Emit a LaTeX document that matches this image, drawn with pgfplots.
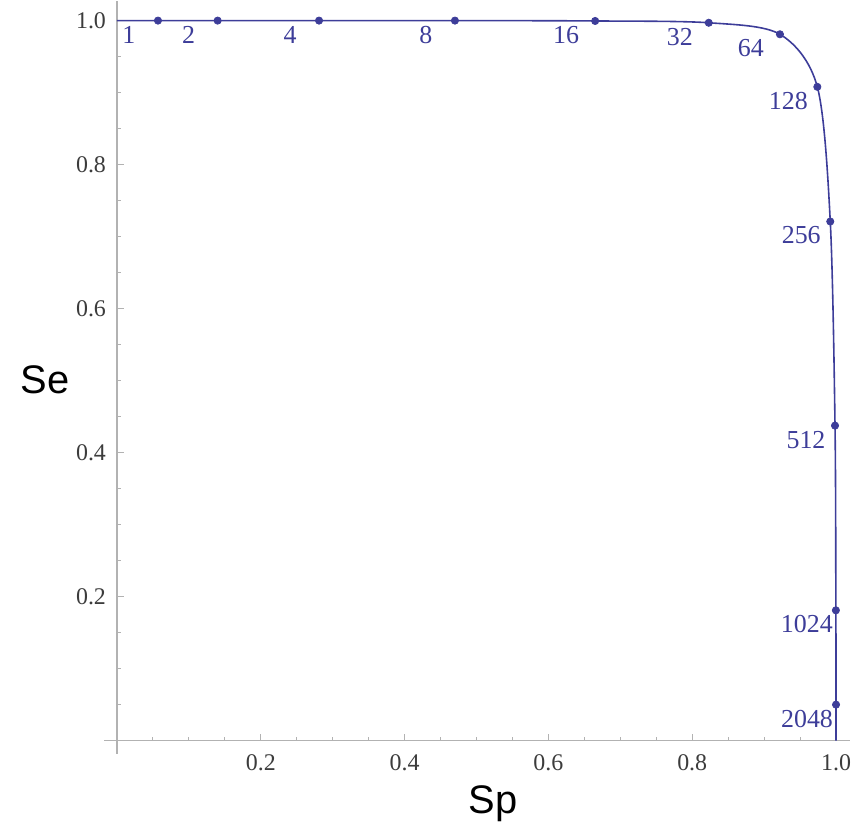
\documentclass[border=0pt]{standalone}
\usepackage{pgfplots}
\pgfplotsset{compat=1.18}
\usepackage{fontspec}
\setmainfont{Liberation Serif}
\newfontfamily\labelsans{Liberation Sans}

\definecolor{curveblue}{RGB}{61,61,153}
\definecolor{axisgray}{RGB}{178,178,178}
\definecolor{ticktext}{RGB}{60,60,60}

% operating points: specificity, sensitivity, threshold n
\pgfplotstableread{
sp      se      n
0.057   1.000   1
0.140   1.000   2
0.281   1.000   4
0.470   1.000   8
0.665   0.9995  16
0.823   0.997   32
0.922   0.981   64
0.974   0.908   128
0.992   0.721   256
0.9986  0.4375  512
0.9998  0.181   1024
1.000   0.050   2048
}\points

% the continuous trade-off curve through the operating points
\pgfplotstableread{
sp      se
0.000   1.000
0.057   1.000
0.140   1.000
0.281   1.000
0.470   1.000
0.665   0.9995
0.823   0.997
0.922   0.981
0.974   0.908
0.992   0.721
0.9986  0.4375
0.9998  0.181
1.000   0.050
1.000   0.000
}\curve

\begin{document}
\begin{tikzpicture}
\begin{axis}[
  x=359.5bp, y=360bp,
  axis lines=middle,
  xmin=-0.018, xmax=1.0195,
  ymin=-0.018, ymax=1.0278,
  clip=false,
  axis line style={axisgray, line width=0.6bp, -},
  xtick={0.2,0.4,0.6,0.8,1.0},
  ytick={0.2,0.4,0.6,0.8,1.0},
  minor xtick={0.05,0.1,0.15,0.25,0.3,0.35,0.45,0.5,0.55,0.65,0.7,0.75,0.85,0.9,0.95},
  minor ytick={0.05,0.1,0.15,0.25,0.3,0.35,0.45,0.5,0.55,0.65,0.7,0.75,0.85,0.9,0.95},
  tick align=inside,
  major tick length=3.5bp,
  minor tick length=2bp,
  tick style={axisgray, line width=0.5bp},
  xticklabel style={font=\fontsize{12}{14}\selectfont, text=ticktext, yshift=-3.5bp},
  yticklabel style={font=\fontsize{12}{14}\selectfont, text=ticktext, xshift=-2bp},
  /pgf/number format/.cd, fixed, fixed zerofill, precision=1, assume math mode=true,
]
\path (axis cs:-0.1627,1.0278) rectangle (axis cs:1.0403,-0.1236);

\addplot[curveblue, line width=0.8bp, smooth, tension=0.5, no markers]
  table[x=sp, y=se] {\curve};

\addplot[
  only marks, mark=*, mark size=1.8bp,
  mark options={fill=curveblue, draw=curveblue},
  point meta=explicit symbolic,
  nodes near coords,
  nodes near coords style={anchor=center, xshift=-14.5bp, yshift=-7bp,
    text=curveblue, font=\fontsize{13}{15}\selectfont},
] table[x=sp, y=se, meta=n] {\points};

\node[font=\labelsans\fontsize{20}{24}\selectfont] at (axis cs:-0.100,0.501) {Se};
\node[font=\labelsans\fontsize{20}{24}\selectfont] at (axis cs:0.523,-0.0875) {Sp};
\end{axis}
\end{tikzpicture}
\end{document}
